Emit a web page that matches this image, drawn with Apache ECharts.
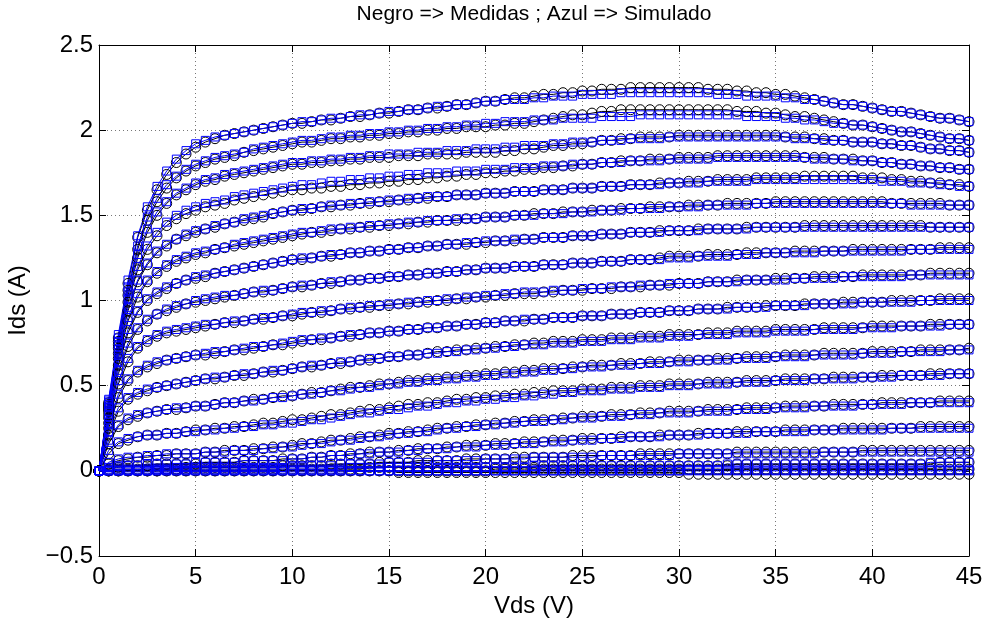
<!DOCTYPE html>
<html>
<head>
<meta charset="utf-8">
<script src="https://cdn.jsdelivr.net/npm/echarts@6/dist/echarts.min.js"></script>
<style>
  html, body { margin: 0; padding: 0; background: #fff; }
  #chart { width: 988px; height: 623px; }
</style>
</head>
<body>
<div id="chart"></div>
<script>
// Vds sweep (V)
const vds = [0,0.5,1,1.5,2,2.5,3,3.5,4,4.5,5,5.5,6,6.5,7,7.5,8,8.5,9,9.5,10,10.5,11,11.5,12,12.5,13,13.5,14,14.5,15,15.5,16,16.5,17,17.5,18,18.5,19,19.5,20,20.5,21,21.5,22,22.5,23,23.5,24,24.5,25,25.5,26,26.5,27,27.5,28,28.5,29,29.5,30,30.5,31,31.5,32,32.5,33,33.5,34,34.5,35,35.5,36,36.5,37,37.5,38,38.5,39,39.5,40,40.5,41,41.5,42,42.5,43,43.5,44,44.5,45];

// measured Ids (A), black circles
const meas1 = [0,0.40,0.78,1.10,1.37,1.53,1.65,1.74,1.81,1.86,1.90,1.93,1.95,1.97,1.98,1.99,2.00,2.01,2.02,2.03,2.04,2.04,2.05,2.06,2.06,2.07,2.08,2.08,2.09,2.10,2.10,2.11,2.12,2.12,2.13,2.13,2.14,2.15,2.15,2.16,2.17,2.17,2.18,2.19,2.19,2.20,2.21,2.21,2.22,2.22,2.23,2.23,2.24,2.24,2.24,2.25,2.25,2.25,2.25,2.25,2.25,2.25,2.25,2.24,2.24,2.24,2.23,2.23,2.22,2.22,2.21,2.21,2.20,2.19,2.18,2.17,2.16,2.15,2.15,2.14,2.13,2.12,2.11,2.11,2.10,2.09,2.08,2.07,2.07,2.06,2.05];
const meas2 = [0,0.39,0.76,1.06,1.30,1.47,1.58,1.66,1.72,1.76,1.79,1.81,1.83,1.84,1.85,1.87,1.88,1.89,1.90,1.91,1.92,1.93,1.93,1.94,1.95,1.95,1.96,1.96,1.97,1.97,1.98,1.98,1.99,1.99,2.00,2.00,2.01,2.01,2.02,2.02,2.02,2.03,2.03,2.04,2.04,2.05,2.06,2.07,2.08,2.09,2.09,2.10,2.11,2.11,2.12,2.12,2.12,2.12,2.12,2.12,2.12,2.12,2.12,2.12,2.12,2.12,2.11,2.11,2.11,2.10,2.10,2.09,2.08,2.08,2.07,2.06,2.05,2.04,2.03,2.03,2.02,2.01,2.00,1.99,1.99,1.98,1.97,1.96,1.95,1.95,1.94];
const meas3 = [0,0.38,0.74,1.03,1.25,1.40,1.50,1.57,1.62,1.65,1.68,1.70,1.71,1.73,1.74,1.75,1.76,1.77,1.78,1.79,1.80,1.80,1.81,1.81,1.82,1.82,1.83,1.83,1.84,1.84,1.84,1.85,1.85,1.85,1.86,1.86,1.86,1.86,1.87,1.87,1.87,1.87,1.88,1.88,1.89,1.89,1.90,1.91,1.91,1.92,1.92,1.93,1.94,1.94,1.95,1.95,1.96,1.96,1.96,1.96,1.97,1.97,1.97,1.97,1.97,1.97,1.97,1.97,1.97,1.97,1.97,1.96,1.96,1.96,1.95,1.95,1.94,1.94,1.93,1.93,1.93,1.92,1.92,1.91,1.91,1.90,1.89,1.89,1.88,1.88,1.87];
const meas4 = [0,0.37,0.72,0.99,1.18,1.30,1.38,1.44,1.48,1.51,1.53,1.55,1.56,1.57,1.59,1.60,1.61,1.62,1.63,1.64,1.65,1.65,1.66,1.66,1.67,1.67,1.68,1.68,1.69,1.69,1.70,1.70,1.71,1.71,1.72,1.72,1.73,1.73,1.74,1.74,1.75,1.75,1.76,1.76,1.77,1.77,1.78,1.78,1.79,1.79,1.80,1.80,1.81,1.81,1.82,1.82,1.82,1.83,1.83,1.83,1.84,1.84,1.84,1.84,1.85,1.85,1.85,1.85,1.85,1.85,1.85,1.85,1.85,1.84,1.84,1.84,1.83,1.83,1.83,1.82,1.82,1.81,1.81,1.80,1.80,1.79,1.79,1.78,1.78,1.77,1.77];
const meas5 = [0,0.36,0.69,0.94,1.11,1.21,1.28,1.32,1.36,1.38,1.40,1.42,1.43,1.45,1.46,1.47,1.48,1.49,1.51,1.52,1.53,1.53,1.54,1.55,1.55,1.56,1.56,1.57,1.57,1.58,1.58,1.59,1.59,1.60,1.60,1.61,1.61,1.62,1.62,1.62,1.63,1.63,1.63,1.64,1.64,1.64,1.65,1.65,1.65,1.66,1.66,1.66,1.67,1.67,1.67,1.68,1.68,1.68,1.69,1.69,1.69,1.70,1.70,1.70,1.71,1.71,1.71,1.71,1.72,1.72,1.72,1.72,1.72,1.73,1.73,1.73,1.73,1.73,1.73,1.72,1.72,1.72,1.71,1.71,1.70,1.70,1.69,1.69,1.68,1.68,1.67];
const meas6 = [0,0.35,0.66,0.88,1.02,1.11,1.16,1.20,1.23,1.25,1.27,1.28,1.30,1.31,1.32,1.33,1.34,1.35,1.36,1.37,1.38,1.39,1.40,1.40,1.41,1.42,1.42,1.43,1.43,1.44,1.44,1.45,1.45,1.46,1.46,1.47,1.47,1.47,1.48,1.48,1.49,1.49,1.49,1.50,1.50,1.51,1.51,1.51,1.52,1.52,1.52,1.53,1.53,1.53,1.54,1.54,1.54,1.55,1.55,1.55,1.55,1.56,1.56,1.56,1.56,1.57,1.57,1.57,1.57,1.57,1.58,1.58,1.58,1.58,1.58,1.58,1.58,1.58,1.58,1.58,1.58,1.58,1.57,1.57,1.57,1.57,1.57,1.57,1.56,1.56,1.56];
const meas7 = [0,0.33,0.62,0.81,0.93,1.00,1.04,1.07,1.10,1.12,1.13,1.14,1.16,1.17,1.18,1.19,1.20,1.21,1.22,1.23,1.24,1.24,1.25,1.26,1.26,1.27,1.28,1.28,1.29,1.29,1.30,1.30,1.31,1.31,1.32,1.32,1.33,1.33,1.33,1.34,1.34,1.35,1.35,1.35,1.36,1.36,1.37,1.37,1.37,1.38,1.38,1.38,1.39,1.39,1.39,1.40,1.40,1.40,1.41,1.41,1.41,1.41,1.42,1.42,1.42,1.42,1.42,1.43,1.43,1.43,1.43,1.43,1.43,1.44,1.44,1.44,1.44,1.44,1.44,1.44,1.44,1.44,1.44,1.44,1.44,1.44,1.43,1.43,1.43,1.43,1.43];
const meas8 = [0,0.31,0.57,0.73,0.83,0.88,0.92,0.94,0.96,0.98,0.99,1.00,1.01,1.02,1.03,1.04,1.05,1.05,1.06,1.07,1.08,1.08,1.09,1.10,1.10,1.11,1.12,1.12,1.13,1.13,1.14,1.14,1.15,1.15,1.16,1.16,1.17,1.17,1.18,1.18,1.19,1.19,1.19,1.20,1.20,1.20,1.21,1.21,1.21,1.22,1.22,1.22,1.23,1.23,1.23,1.24,1.24,1.24,1.25,1.26,1.26,1.26,1.26,1.27,1.27,1.27,1.27,1.28,1.28,1.28,1.28,1.28,1.29,1.29,1.29,1.29,1.29,1.29,1.30,1.30,1.30,1.30,1.30,1.30,1.30,1.30,1.30,1.31,1.31,1.31,1.31];
const meas9 = [0,0.28,0.51,0.64,0.72,0.76,0.79,0.81,0.82,0.83,0.84,0.85,0.86,0.87,0.87,0.88,0.89,0.89,0.90,0.91,0.91,0.92,0.93,0.93,0.94,0.95,0.95,0.96,0.96,0.97,0.97,0.98,0.98,0.99,0.99,1.00,1.00,1.01,1.01,1.02,1.02,1.03,1.03,1.04,1.04,1.04,1.05,1.05,1.06,1.06,1.06,1.07,1.07,1.07,1.08,1.08,1.08,1.09,1.09,1.09,1.10,1.10,1.10,1.11,1.11,1.11,1.12,1.12,1.12,1.12,1.13,1.13,1.13,1.13,1.14,1.14,1.14,1.14,1.14,1.15,1.15,1.15,1.15,1.15,1.15,1.15,1.16,1.16,1.16,1.16,1.16];
const meas10 = [0,0.25,0.43,0.53,0.58,0.61,0.63,0.65,0.66,0.67,0.68,0.68,0.69,0.70,0.71,0.71,0.72,0.73,0.74,0.74,0.75,0.76,0.77,0.77,0.78,0.79,0.79,0.80,0.81,0.81,0.82,0.82,0.83,0.83,0.84,0.84,0.85,0.85,0.86,0.86,0.87,0.87,0.88,0.88,0.88,0.89,0.89,0.90,0.90,0.90,0.91,0.91,0.91,0.92,0.92,0.92,0.93,0.93,0.93,0.94,0.94,0.94,0.95,0.95,0.95,0.96,0.96,0.96,0.96,0.97,0.97,0.97,0.97,0.98,0.98,0.98,0.98,0.99,0.99,0.99,0.99,0.99,1.00,1.00,1.00,1.00,1.00,1.01,1.01,1.01,1.01];
const meas11 = [0,0.21,0.35,0.42,0.45,0.47,0.49,0.50,0.51,0.52,0.53,0.54,0.54,0.55,0.56,0.56,0.57,0.58,0.58,0.59,0.60,0.61,0.61,0.62,0.63,0.63,0.64,0.65,0.65,0.66,0.67,0.67,0.68,0.68,0.69,0.70,0.70,0.71,0.71,0.72,0.72,0.73,0.73,0.74,0.74,0.75,0.75,0.76,0.76,0.76,0.77,0.77,0.77,0.78,0.78,0.78,0.79,0.79,0.79,0.80,0.80,0.80,0.80,0.81,0.81,0.81,0.82,0.82,0.82,0.82,0.83,0.83,0.83,0.83,0.83,0.84,0.84,0.84,0.84,0.84,0.85,0.85,0.85,0.85,0.85,0.85,0.86,0.86,0.86,0.86,0.86];
const meas12 = [0,0.16,0.26,0.30,0.32,0.34,0.35,0.36,0.36,0.37,0.38,0.38,0.39,0.40,0.40,0.41,0.42,0.42,0.43,0.44,0.44,0.45,0.46,0.46,0.47,0.48,0.49,0.49,0.50,0.51,0.51,0.52,0.53,0.53,0.54,0.54,0.55,0.55,0.56,0.56,0.57,0.57,0.58,0.58,0.59,0.59,0.60,0.60,0.60,0.61,0.61,0.62,0.62,0.62,0.63,0.63,0.63,0.64,0.64,0.64,0.65,0.65,0.65,0.65,0.66,0.66,0.66,0.67,0.67,0.67,0.67,0.68,0.68,0.68,0.68,0.69,0.69,0.69,0.69,0.69,0.70,0.70,0.70,0.70,0.70,0.71,0.71,0.71,0.71,0.71,0.72];
const meas13 = [0,0.10,0.16,0.18,0.20,0.21,0.21,0.22,0.22,0.23,0.24,0.24,0.25,0.25,0.26,0.26,0.27,0.28,0.28,0.29,0.30,0.30,0.31,0.32,0.33,0.33,0.34,0.35,0.36,0.36,0.37,0.38,0.39,0.39,0.40,0.40,0.41,0.42,0.42,0.43,0.43,0.44,0.44,0.45,0.45,0.46,0.46,0.47,0.47,0.47,0.48,0.48,0.48,0.49,0.49,0.49,0.50,0.50,0.50,0.51,0.51,0.51,0.51,0.52,0.52,0.52,0.52,0.53,0.53,0.53,0.53,0.54,0.54,0.54,0.54,0.54,0.55,0.55,0.55,0.55,0.55,0.56,0.56,0.56,0.56,0.56,0.57,0.57,0.57,0.57,0.57];
const meas14 = [0,0.04,0.06,0.07,0.08,0.08,0.09,0.09,0.10,0.10,0.10,0.11,0.11,0.12,0.12,0.12,0.13,0.13,0.14,0.14,0.15,0.16,0.16,0.17,0.18,0.18,0.19,0.20,0.20,0.21,0.22,0.22,0.23,0.23,0.24,0.25,0.25,0.26,0.26,0.27,0.27,0.28,0.28,0.29,0.29,0.30,0.30,0.30,0.31,0.31,0.32,0.32,0.32,0.33,0.33,0.33,0.34,0.34,0.34,0.35,0.35,0.35,0.35,0.36,0.36,0.36,0.36,0.37,0.37,0.37,0.37,0.38,0.38,0.38,0.38,0.38,0.39,0.39,0.39,0.39,0.39,0.40,0.40,0.40,0.40,0.40,0.40,0.41,0.41,0.41,0.41];
const meas15 = [0,0.01,0.02,0.03,0.03,0.03,0.04,0.04,0.04,0.04,0.04,0.05,0.05,0.05,0.05,0.06,0.06,0.06,0.06,0.07,0.07,0.07,0.08,0.08,0.09,0.09,0.10,0.10,0.11,0.11,0.11,0.12,0.12,0.13,0.13,0.13,0.14,0.14,0.15,0.15,0.15,0.16,0.16,0.16,0.17,0.17,0.17,0.18,0.18,0.18,0.19,0.19,0.19,0.19,0.20,0.20,0.20,0.20,0.21,0.21,0.21,0.21,0.22,0.22,0.22,0.22,0.23,0.23,0.23,0.23,0.23,0.24,0.24,0.24,0.24,0.24,0.24,0.25,0.25,0.25,0.25,0.25,0.25,0.25,0.25,0.26,0.26,0.26,0.26,0.26,0.26];
const meas16 = [0,0,0.01,0.01,0.01,0.01,0.01,0.01,0.01,0.02,0.02,0.02,0.02,0.02,0.02,0.02,0.02,0.02,0.02,0.03,0.03,0.03,0.03,0.03,0.04,0.04,0.04,0.04,0.04,0.05,0.05,0.05,0.05,0.06,0.06,0.06,0.06,0.06,0.07,0.07,0.07,0.07,0.07,0.08,0.08,0.08,0.08,0.08,0.08,0.09,0.09,0.09,0.09,0.09,0.09,0.09,0.10,0.10,0.10,0.10,0.10,0.10,0.10,0.10,0.10,0.10,0.11,0.11,0.11,0.11,0.11,0.11,0.11,0.11,0.11,0.11,0.11,0.11,0.11,0.12,0.12,0.12,0.12,0.12,0.12,0.12,0.12,0.12,0.12,0.12,0.12];
const meas17 = [0,0,0,0,0,0,0,0.01,0.01,0.01,0.01,0.01,0.01,0.01,0.01,0.01,0.01,0.01,0.01,0.01,0.01,0.01,0.01,0.01,0.01,0.01,0.01,0.01,0.02,0.02,0.02,0.02,0.02,0.02,0.02,0.02,0.02,0.02,0.02,0.02,0.02,0.02,0.02,0.02,0.02,0.02,0.03,0.03,0.03,0.03,0.03,0.03,0.03,0.03,0.03,0.03,0.03,0.03,0.03,0.03,0.03,0.03,0.03,0.03,0.03,0.03,0.04,0.04,0.04,0.04,0.04,0.04,0.04,0.04,0.04,0.04,0.04,0.04,0.04,0.04,0.04,0.04,0.04,0.04,0.04,0.04,0.04,0.05,0.05,0.05,0.05];
const meas18 = [0,0,0,0,0,0,0,0,0,0,0,0,0,0,0,0,0,0,0,0,0,0,0,0,0,0,0,0,0,0,0,0,0,0,0,0,0,0,0,0,0,0.01,0.01,0.01,0.01,0.01,0.01,0.01,0.01,0.01,0.01,0.01,0.01,0.01,0.01,0.01,0.01,0.01,0.01,0.01,0.01,0.01,0.01,0.01,0.01,0.01,0.01,0.01,0.01,0.01,0.01,0.01,0.01,0.01,0.01,0.01,0.01,0.01,0.01,0.01,0.01,0.01,0.01,0.01,0.01,0.01,0.01,0.01,0.01,0.01,0.01];
const meas19 = [0,0,0,0,0,0,0,0,0,0,0,0,0,0,0,0,0,0,0,0,0,0,0,0,0,0,0,0,0,0,0,-0.01,-0.01,-0.01,-0.01,-0.01,-0.01,-0.01,-0.01,-0.01,-0.01,-0.01,-0.01,-0.01,-0.01,-0.01,-0.01,-0.01,-0.01,-0.01,-0.01,-0.01,-0.01,-0.01,-0.01,-0.01,-0.01,-0.01,-0.01,-0.01,-0.01,-0.02,-0.02,-0.02,-0.02,-0.02,-0.02,-0.02,-0.02,-0.02,-0.02,-0.02,-0.02,-0.02,-0.02,-0.02,-0.02,-0.02,-0.02,-0.02,-0.02,-0.02,-0.02,-0.02,-0.02,-0.02,-0.02,-0.02,-0.02,-0.02,-0.02];

// simulated Ids (A), blue squares
const sim1 = [0,0.42,0.80,1.12,1.38,1.55,1.67,1.76,1.83,1.88,1.92,1.94,1.96,1.97,1.98,1.99,2.00,2.01,2.02,2.03,2.04,2.05,2.05,2.06,2.07,2.07,2.08,2.09,2.09,2.10,2.11,2.11,2.12,2.12,2.13,2.14,2.14,2.15,2.15,2.16,2.17,2.17,2.18,2.18,2.18,2.19,2.19,2.20,2.20,2.20,2.21,2.21,2.21,2.21,2.22,2.22,2.22,2.22,2.22,2.22,2.22,2.22,2.22,2.22,2.21,2.21,2.21,2.20,2.20,2.20,2.20,2.19,2.19,2.18,2.18,2.17,2.16,2.15,2.15,2.14,2.13,2.12,2.11,2.11,2.10,2.09,2.08,2.07,2.07,2.06,2.05];
const sim2 = [0,0.41,0.78,1.08,1.32,1.49,1.60,1.68,1.73,1.77,1.80,1.82,1.84,1.85,1.86,1.87,1.89,1.90,1.91,1.92,1.93,1.94,1.94,1.95,1.96,1.96,1.97,1.97,1.98,1.98,1.99,1.99,2.00,2.00,2.01,2.01,2.02,2.02,2.03,2.03,2.04,2.04,2.05,2.05,2.05,2.06,2.06,2.06,2.07,2.07,2.07,2.07,2.08,2.08,2.08,2.08,2.09,2.09,2.09,2.09,2.09,2.09,2.09,2.09,2.09,2.09,2.09,2.08,2.08,2.08,2.08,2.07,2.07,2.06,2.06,2.05,2.04,2.04,2.03,2.03,2.02,2.01,2.00,1.99,1.99,1.98,1.97,1.96,1.95,1.95,1.94];
const sim3 = [0,0.40,0.76,1.05,1.27,1.42,1.52,1.58,1.63,1.66,1.69,1.71,1.72,1.74,1.75,1.76,1.77,1.78,1.79,1.80,1.81,1.81,1.82,1.82,1.83,1.83,1.84,1.84,1.85,1.85,1.86,1.86,1.86,1.87,1.87,1.87,1.88,1.88,1.88,1.89,1.89,1.89,1.90,1.90,1.91,1.91,1.91,1.92,1.92,1.93,1.93,1.93,1.94,1.94,1.94,1.95,1.95,1.95,1.95,1.96,1.96,1.96,1.96,1.96,1.96,1.96,1.96,1.96,1.96,1.96,1.96,1.96,1.95,1.95,1.95,1.94,1.94,1.94,1.93,1.93,1.93,1.92,1.92,1.91,1.91,1.90,1.89,1.89,1.88,1.88,1.87];
const sim4 = [0,0.39,0.74,1.01,1.20,1.32,1.40,1.46,1.50,1.53,1.55,1.57,1.58,1.59,1.61,1.62,1.63,1.64,1.65,1.66,1.67,1.68,1.68,1.69,1.70,1.70,1.71,1.71,1.72,1.72,1.73,1.73,1.74,1.74,1.75,1.75,1.75,1.76,1.76,1.76,1.77,1.77,1.77,1.78,1.78,1.78,1.79,1.79,1.79,1.80,1.80,1.80,1.81,1.81,1.81,1.82,1.82,1.82,1.82,1.83,1.83,1.83,1.83,1.83,1.84,1.84,1.84,1.84,1.84,1.84,1.84,1.84,1.84,1.84,1.83,1.83,1.83,1.83,1.82,1.82,1.82,1.81,1.81,1.80,1.80,1.79,1.79,1.78,1.78,1.77,1.77];
const sim5 = [0,0.38,0.71,0.96,1.12,1.22,1.29,1.33,1.36,1.39,1.41,1.42,1.44,1.45,1.46,1.48,1.49,1.50,1.51,1.52,1.53,1.54,1.54,1.55,1.56,1.56,1.57,1.57,1.58,1.58,1.59,1.59,1.60,1.60,1.61,1.61,1.61,1.62,1.62,1.62,1.63,1.63,1.63,1.64,1.64,1.64,1.65,1.65,1.65,1.66,1.66,1.66,1.67,1.67,1.67,1.68,1.68,1.68,1.68,1.69,1.69,1.69,1.69,1.70,1.70,1.70,1.70,1.70,1.71,1.71,1.71,1.71,1.71,1.71,1.71,1.71,1.71,1.71,1.71,1.71,1.71,1.70,1.70,1.70,1.69,1.69,1.69,1.68,1.68,1.67,1.67];
const sim6 = [0,0.37,0.68,0.90,1.04,1.12,1.17,1.21,1.24,1.26,1.28,1.29,1.30,1.31,1.33,1.34,1.35,1.36,1.37,1.38,1.39,1.40,1.40,1.41,1.42,1.42,1.43,1.43,1.44,1.44,1.45,1.45,1.46,1.46,1.47,1.47,1.47,1.48,1.48,1.48,1.49,1.49,1.49,1.50,1.50,1.50,1.51,1.51,1.51,1.52,1.52,1.52,1.53,1.53,1.53,1.54,1.54,1.54,1.54,1.55,1.55,1.55,1.55,1.56,1.56,1.56,1.56,1.56,1.57,1.57,1.57,1.57,1.57,1.57,1.57,1.57,1.57,1.57,1.57,1.57,1.57,1.57,1.57,1.57,1.56,1.56,1.56,1.56,1.56,1.56,1.56];
const sim7 = [0,0.35,0.64,0.83,0.94,1.01,1.05,1.08,1.10,1.12,1.14,1.15,1.16,1.17,1.18,1.19,1.20,1.21,1.22,1.23,1.24,1.25,1.25,1.26,1.27,1.27,1.28,1.28,1.29,1.29,1.30,1.30,1.31,1.31,1.32,1.32,1.33,1.33,1.34,1.34,1.35,1.35,1.35,1.36,1.36,1.36,1.37,1.37,1.37,1.38,1.38,1.38,1.39,1.39,1.39,1.40,1.40,1.40,1.40,1.41,1.41,1.41,1.41,1.42,1.42,1.42,1.42,1.42,1.43,1.43,1.43,1.43,1.43,1.43,1.43,1.43,1.43,1.43,1.43,1.43,1.43,1.43,1.43,1.43,1.43,1.43,1.43,1.43,1.43,1.43,1.43];
const sim8 = [0,0.33,0.59,0.75,0.84,0.89,0.92,0.95,0.97,0.98,1.00,1.01,1.02,1.03,1.03,1.04,1.05,1.06,1.06,1.07,1.08,1.09,1.09,1.10,1.11,1.11,1.12,1.12,1.13,1.13,1.14,1.14,1.15,1.15,1.16,1.16,1.17,1.17,1.18,1.18,1.19,1.19,1.19,1.20,1.20,1.20,1.21,1.21,1.21,1.22,1.22,1.22,1.23,1.23,1.23,1.24,1.24,1.24,1.24,1.25,1.25,1.25,1.26,1.26,1.26,1.26,1.27,1.27,1.27,1.28,1.28,1.28,1.28,1.28,1.28,1.29,1.29,1.29,1.29,1.29,1.29,1.29,1.29,1.29,1.30,1.30,1.30,1.30,1.30,1.30,1.30];
const sim9 = [0,0.30,0.53,0.66,0.73,0.77,0.80,0.82,0.83,0.84,0.85,0.86,0.86,0.87,0.88,0.88,0.89,0.90,0.90,0.91,0.92,0.93,0.93,0.94,0.94,0.95,0.96,0.96,0.97,0.97,0.98,0.98,0.99,0.99,1.00,1.00,1.01,1.01,1.02,1.02,1.03,1.03,1.04,1.04,1.05,1.05,1.05,1.06,1.06,1.06,1.07,1.07,1.07,1.08,1.08,1.08,1.09,1.09,1.09,1.10,1.10,1.10,1.10,1.11,1.11,1.11,1.11,1.12,1.12,1.12,1.12,1.12,1.13,1.13,1.13,1.13,1.13,1.14,1.14,1.14,1.14,1.14,1.14,1.14,1.15,1.15,1.15,1.15,1.15,1.15,1.15];
const sim10 = [0,0.27,0.45,0.54,0.59,0.62,0.64,0.65,0.66,0.67,0.68,0.69,0.70,0.70,0.71,0.72,0.73,0.73,0.74,0.75,0.76,0.77,0.77,0.78,0.78,0.79,0.80,0.80,0.81,0.81,0.82,0.82,0.83,0.83,0.84,0.84,0.85,0.85,0.86,0.86,0.87,0.87,0.88,0.88,0.89,0.89,0.89,0.90,0.90,0.90,0.91,0.91,0.91,0.92,0.92,0.92,0.93,0.93,0.93,0.94,0.94,0.94,0.95,0.95,0.95,0.95,0.96,0.96,0.96,0.96,0.97,0.97,0.97,0.97,0.98,0.98,0.98,0.98,0.98,0.99,0.99,0.99,0.99,0.99,0.99,1.00,1.00,1.00,1.00,1.00,1.00];
const sim11 = [0,0.23,0.37,0.43,0.46,0.48,0.49,0.50,0.51,0.52,0.53,0.54,0.55,0.55,0.56,0.57,0.57,0.58,0.59,0.59,0.60,0.61,0.62,0.62,0.63,0.64,0.64,0.65,0.66,0.66,0.67,0.67,0.68,0.68,0.69,0.69,0.70,0.70,0.71,0.71,0.72,0.72,0.73,0.73,0.74,0.74,0.74,0.75,0.75,0.75,0.76,0.76,0.76,0.77,0.77,0.77,0.78,0.78,0.78,0.79,0.79,0.79,0.80,0.80,0.80,0.80,0.81,0.81,0.81,0.81,0.82,0.82,0.82,0.82,0.83,0.83,0.83,0.83,0.83,0.84,0.84,0.84,0.84,0.85,0.85,0.85,0.85,0.85,0.86,0.86,0.86];
const sim12 = [0,0.18,0.27,0.31,0.33,0.34,0.35,0.36,0.37,0.37,0.38,0.38,0.39,0.40,0.40,0.41,0.41,0.42,0.43,0.43,0.44,0.45,0.45,0.46,0.47,0.47,0.48,0.49,0.49,0.50,0.51,0.51,0.52,0.52,0.53,0.53,0.54,0.54,0.55,0.55,0.56,0.56,0.57,0.57,0.58,0.58,0.59,0.59,0.60,0.60,0.61,0.61,0.61,0.62,0.62,0.62,0.63,0.63,0.63,0.64,0.64,0.64,0.65,0.65,0.65,0.65,0.66,0.66,0.66,0.66,0.67,0.67,0.67,0.67,0.68,0.68,0.68,0.68,0.68,0.69,0.69,0.69,0.69,0.70,0.70,0.70,0.70,0.70,0.71,0.71,0.71];
const sim13 = [0,0.12,0.17,0.19,0.20,0.21,0.21,0.22,0.22,0.23,0.23,0.24,0.24,0.25,0.25,0.26,0.26,0.27,0.27,0.28,0.28,0.29,0.30,0.30,0.31,0.32,0.33,0.34,0.34,0.35,0.36,0.36,0.37,0.38,0.38,0.39,0.40,0.40,0.41,0.41,0.42,0.42,0.43,0.43,0.44,0.44,0.45,0.45,0.46,0.46,0.47,0.47,0.47,0.48,0.48,0.48,0.49,0.49,0.49,0.50,0.50,0.50,0.51,0.51,0.51,0.51,0.52,0.52,0.52,0.52,0.53,0.53,0.53,0.53,0.54,0.54,0.54,0.54,0.54,0.55,0.55,0.55,0.55,0.56,0.56,0.56,0.56,0.56,0.57,0.57,0.57];
const sim14 = [0,0.05,0.07,0.08,0.08,0.09,0.09,0.10,0.10,0.10,0.10,0.11,0.11,0.11,0.12,0.12,0.12,0.13,0.13,0.14,0.14,0.15,0.16,0.16,0.17,0.18,0.18,0.19,0.20,0.20,0.21,0.22,0.22,0.23,0.23,0.24,0.25,0.25,0.26,0.26,0.27,0.27,0.28,0.28,0.29,0.29,0.29,0.30,0.30,0.31,0.31,0.31,0.32,0.32,0.32,0.33,0.33,0.33,0.34,0.34,0.34,0.34,0.35,0.35,0.35,0.35,0.36,0.36,0.36,0.36,0.37,0.37,0.37,0.37,0.38,0.38,0.38,0.38,0.38,0.39,0.39,0.39,0.39,0.39,0.40,0.40,0.40,0.40,0.40,0.40,0.40];
const sim15 = [0,0.02,0.03,0.03,0.03,0.04,0.04,0.04,0.04,0.04,0.05,0.05,0.05,0.05,0.05,0.06,0.06,0.06,0.06,0.06,0.07,0.07,0.08,0.08,0.09,0.09,0.09,0.10,0.10,0.11,0.11,0.11,0.12,0.12,0.13,0.13,0.13,0.14,0.14,0.14,0.15,0.15,0.15,0.16,0.16,0.16,0.17,0.17,0.17,0.18,0.18,0.18,0.19,0.19,0.19,0.20,0.20,0.20,0.20,0.21,0.21,0.21,0.21,0.22,0.22,0.22,0.22,0.22,0.23,0.23,0.23,0.23,0.23,0.23,0.24,0.24,0.24,0.24,0.24,0.24,0.24,0.24,0.25,0.25,0.25,0.25,0.25,0.25,0.25,0.25,0.25];
const sim16 = [0,0.01,0.01,0.01,0.01,0.01,0.01,0.01,0.02,0.02,0.02,0.02,0.02,0.02,0.02,0.02,0.02,0.02,0.02,0.02,0.03,0.03,0.03,0.03,0.03,0.04,0.04,0.04,0.04,0.04,0.05,0.05,0.05,0.05,0.05,0.06,0.06,0.06,0.06,0.06,0.07,0.07,0.07,0.07,0.07,0.08,0.08,0.08,0.08,0.08,0.08,0.08,0.09,0.09,0.09,0.09,0.09,0.09,0.09,0.09,0.10,0.10,0.10,0.10,0.10,0.10,0.10,0.10,0.10,0.10,0.10,0.10,0.10,0.10,0.10,0.11,0.11,0.11,0.11,0.11,0.11,0.11,0.11,0.11,0.11,0.11,0.11,0.11,0.11,0.11,0.11];
const sim17 = [0,0,0,0,0,0,0.01,0.01,0.01,0.01,0.01,0.01,0.01,0.01,0.01,0.01,0.01,0.01,0.01,0.01,0.01,0.01,0.01,0.01,0.01,0.01,0.02,0.02,0.02,0.02,0.02,0.02,0.02,0.02,0.02,0.02,0.02,0.02,0.02,0.02,0.02,0.02,0.02,0.02,0.02,0.03,0.03,0.03,0.03,0.03,0.03,0.03,0.03,0.03,0.03,0.03,0.03,0.03,0.03,0.03,0.03,0.03,0.03,0.03,0.03,0.04,0.04,0.04,0.04,0.04,0.04,0.04,0.04,0.04,0.04,0.04,0.04,0.04,0.04,0.04,0.04,0.04,0.04,0.04,0.04,0.04,0.05,0.05,0.05,0.05,0.05];
const sim18 = [0,0,0,0,0,0,0,0,0,0,0,0,0,0,0,0,0,0,0,0,0,0,0,0,0,0,0,0,0,0,0,0,0,0,0,0,0,0,0,0,0,0,0,0,0,0,0,0,0,0,0,0,0,0,0,0,0,0,0,0,0,0.005,0.005,0.005,0.005,0.005,0.005,0.005,0.005,0.005,0.005,0.005,0.005,0.005,0.005,0.005,0.005,0.005,0.005,0.005,0.005,0.005,0.005,0.005,0.005,0.005,0.005,0.005,0.005,0.005,0.005];
const sim19 = [0,0,0,0,0,0,0,0,0,0,0,0,0,0,0,0,0,0,0,0,0,0,0,0,0,0,0,0,0,0,0,0,0,0,0,0,0,0,0,0,0,0,0,0,0,0,0,0,0,0,0,0,0,0,0,0,0,0,0,0,0,0,0,0,0,0,0,0,0,0,0,0,0,0,0,0,0,0,0,0,0,0,0,0,0,0,0,0,0,0,0];

const measured = [meas1, meas2, meas3, meas4, meas5, meas6, meas7, meas8, meas9, meas10, meas11, meas12, meas13, meas14, meas15, meas16, meas17, meas18, meas19];
const simulated = [sim1, sim2, sim3, sim4, sim5, sim6, sim7, sim8, sim9, sim10, sim11, sim12, sim13, sim14, sim15, sim16, sim17, sim18, sim19];

const xTicks = { min: 0, max: 45, interval: 5 };
const yTicks = { min: -0.5, max: 2.5, interval: 0.5 };

const FONT = "'Liberation Sans', Arial, Helvetica, sans-serif";

const chart = echarts.init(document.getElementById("chart"), null, { renderer: "canvas" });

function pairs(arr) {
  return vds.map((v, i) => [v, arr[i]]);
}

const series = [];
measured.forEach((arr, i) => {
  series.push({
    name: "Medidas " + (i + 1),
    type: "line",
    data: pairs(arr),
    symbol: "circle",
    symbolSize: 10,
    showSymbol: true,
    silent: true,
    lineStyle: { color: "#000", width: 1 },
    itemStyle: { color: "rgba(0,0,0,0)", borderColor: "#000", borderWidth: 1 },
    emphasis: { disabled: true }
  });
});
simulated.forEach((arr, i) => {
  series.push({
    name: "Simulado " + (i + 1),
    type: "line",
    data: pairs(arr),
    symbol: "rect",
    symbolSize: 8,
    showSymbol: true,
    silent: true,
    lineStyle: { color: "#0000ff", width: 1 },
    itemStyle: { color: "rgba(0,0,0,0)", borderColor: "#0000ff", borderWidth: 1 },
    emphasis: { disabled: true }
  });
});

const gridLine = { show: true, lineStyle: { color: "#777", width: 1, type: [1, 3] } };
const tickIn = { show: true, inside: true, length: 7, lineStyle: { color: "#000" } };
const axisLine = { show: true, onZero: false, lineStyle: { color: "#000", width: 1 } };

chart.setOption({
  animation: false,
  backgroundColor: "#fff",
  textStyle: { fontFamily: FONT },
  grid: { left: 99, right: 19, top: 45, bottom: 67, containLabel: false, outerBoundsMode: "none" },
  graphic: [{
    type: "text",
    x: 534,
    y: 14,
    style: {
      text: "Negro => Medidas ; Azul => Simulado",
      font: "21px " + FONT,
      fill: "#000",
      textAlign: "center",
      textVerticalAlign: "middle"
    }
  }],
  xAxis: [
    {
      type: "value",
      min: xTicks.min, max: xTicks.max, interval: xTicks.interval,
      name: "Vds (V)",
      nameLocation: "middle",
      nameGap: 32,
      nameTextStyle: { fontSize: 24, color: "#000", fontFamily: FONT },
      axisLine: axisLine,
      axisTick: tickIn,
      axisLabel: { fontSize: 24, color: "#000", margin: 9, fontFamily: FONT },
      splitLine: gridLine
    },
    {
      type: "value", position: "top",
      min: xTicks.min, max: xTicks.max, interval: xTicks.interval,
      axisLine: axisLine, axisTick: tickIn,
      axisLabel: { show: false }, splitLine: { show: false }
    }
  ],
  yAxis: [
    {
      type: "value",
      min: yTicks.min, max: yTicks.max, interval: yTicks.interval,
      name: "Ids (A)",
      nameLocation: "middle",
      nameGap: 69,
      nameTextStyle: { fontSize: 24, color: "#000", fontFamily: FONT },
      axisLine: axisLine,
      axisTick: tickIn,
      axisLabel: {
        fontSize: 24, color: "#000", margin: 6, fontFamily: FONT,
        formatter: v => (v < 0 ? "\u2212" + Math.abs(v) : String(v))
      },
      splitLine: gridLine
    },
    {
      type: "value", position: "right",
      min: yTicks.min, max: yTicks.max, interval: yTicks.interval,
      axisLine: axisLine, axisTick: tickIn,
      axisLabel: { show: false }, splitLine: { show: false }
    }
  ],
  series: series
});
</script>
</body>
</html>
